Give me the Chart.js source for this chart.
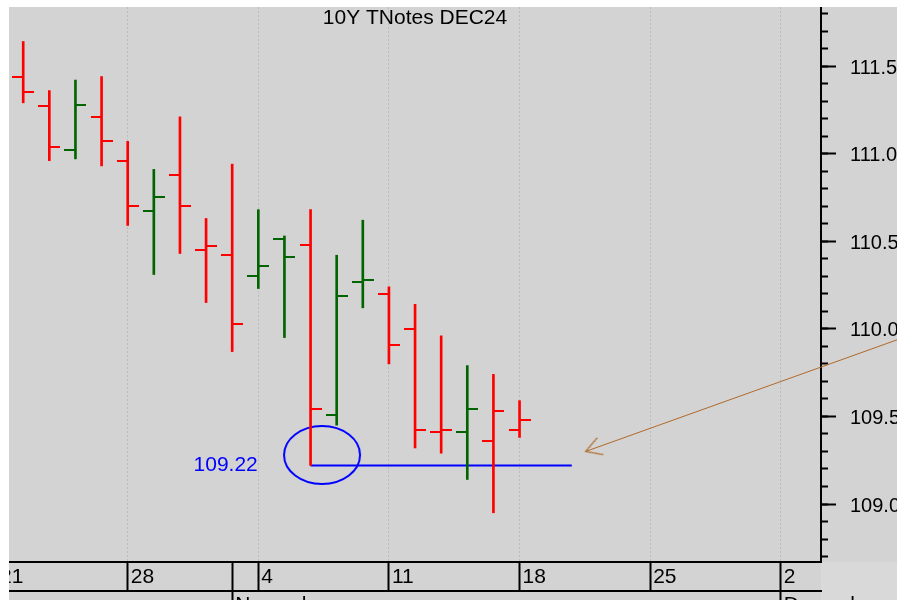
<!DOCTYPE html>
<html>
<head>
<meta charset="utf-8">
<title>10Y TNotes DEC24</title>
<script src="https://cdn.jsdelivr.net/npm/chart.js@4.4.1/dist/chart.umd.min.js"></script>
<style>
  html, body { margin: 0; padding: 0; background: #fff; overflow: hidden; }
  #wrap { position: absolute; left: 9px; top: 7px; width: 920px; height: 593px; background: #d3d3d3; }
</style>
</head>
<body>
<div id="wrap"><canvas id="chart"></canvas></div>
<script>
// trading day index: 0 = Oct 21, 5 = Oct 28, 9 = Nov 1, 10 = Nov 4 ...
const dayIdx = [1, 2, 3, 4, 5, 6, 7, 8, 9, 10, 11, 12, 13, 14, 15, 16, 17, 18, 19, 20];
const openP  = [111.44, 111.27, 111.02, 111.21, 110.96, 110.67, 110.88, 110.45, 110.42, 110.30,
                110.51, 110.48, 109.51, 110.27, 110.20, 110.00, 109.41, 109.41, 109.36, 109.42];
const highP  = [111.64, 111.36, 111.42, 111.44, 111.07, 110.91, 111.21, 110.63, 110.94, 110.68,
                110.53, 110.68, 110.42, 110.62, 110.24, 110.14, 109.96, 109.79, 109.74, 109.59];
const lowP   = [111.29, 110.96, 110.97, 110.93, 110.59, 110.31, 110.43, 110.15, 109.87, 110.23,
                109.95, 109.22, 109.45, 110.12, 109.80, 109.32, 109.29, 109.14, 108.95, 109.38];
const closeP = [111.35, 111.04, 111.28, 111.07, 110.70, 110.75, 110.70, 110.47, 110.03, 110.36,
                110.41, 109.54, 110.19, 110.28, 109.91, 109.42, 109.42, 109.54, 109.53, 109.48];

// axis ticks
const weekTicks = [0, 5, 9, 10, 15, 20, 25, 30];
const weekLabels = ['21', '28', '', '4', '11', '18', '25', '2'];
const monthTicks = [9, 30];
const monthLabels = ['November', 'December'];
const priceTicks = [109.0, 109.5, 110.0, 110.5, 111.0, 111.5];
const minorTicks = [108.7, 108.8, 108.9, 109.0, 109.1, 109.2, 109.3, 109.4, 109.5, 109.6, 109.7,
                    109.8, 109.9, 110.0, 110.1, 110.2, 110.3, 110.4, 110.5, 110.6, 110.7, 110.8,
                    110.9, 111.0, 111.1, 111.2, 111.3, 111.4, 111.5, 111.6, 111.7, 111.8];

// drawings on the chart
const supportX = [12, 22];
const supportY = [109.22, 109.22];
const circleX = [12.44];
const circleY = [109.28];
const arrowX = [36, 22.53];
const arrowY = [110.02, 109.30];
const levelLabelX = 9.98;

const RED = '#ff0000';
const GREEN = '#006400';
const FONT = '"Liberation Sans", Arial, sans-serif';

// up/down vs previous close
const barColors = closeP.map((c, i) => {
  const up = i === 0 ? c > openP[i] : c > closeP[i - 1];
  return up ? GREEN : RED;
});

// small canvases used as point styles
const tickImg = (color, left) => {
  const c = document.createElement('canvas');
  c.width = 22; c.height = 2;
  const g = c.getContext('2d');
  g.fillStyle = color;
  g.fillRect(left ? 0 : 11, 0, 11, 2);
  return c;
};
const openImg = { [RED]: tickImg(RED, true), [GREEN]: tickImg(GREEN, true) };
const closeImg = { [RED]: tickImg(RED, false), [GREEN]: tickImg(GREEN, false) };

const ellipseImg = (() => {
  const c = document.createElement('canvas');
  c.width = 80; c.height = 62;
  const g = c.getContext('2d');
  g.strokeStyle = '#0000ff';
  g.lineWidth = 2;
  g.beginPath();
  g.ellipse(40, 31, 38, 29, 0, 0, Math.PI * 2);
  g.stroke();
  return c;
})();

const arrowHeadImg = (() => {
  const c = document.createElement('canvas');
  c.width = 40; c.height = 40;
  const g = c.getContext('2d');
  g.strokeStyle = '#b0692a';
  g.lineWidth = 1.2;
  g.beginPath();
  g.moveTo(35.6, 11); g.lineTo(20, 20); g.lineTo(35.6, 29);
  g.stroke();
  return c;
})();

// text next to the support line + lighter corner
const extrasPlugin = {
  id: 'extras',
  beforeDraw(chart) {
    const { ctx, chartArea, width, height } = chart;
    ctx.save();
    ctx.fillStyle = '#d9d9d9';
    ctx.fillRect(chartArea.right, chartArea.bottom, width - chartArea.right, height - chartArea.bottom);
    ctx.restore();
  },
  afterDatasetsDraw(chart) {
    const { ctx, scales: { x, y } } = chart;
    ctx.save();
    ctx.fillStyle = '#0000ff';
    ctx.font = '21px ' + FONT;
    ctx.textAlign = 'right';
    ctx.textBaseline = 'middle';
    ctx.fillText(supportY[0].toFixed(2), x.getPixelForValue(levelLabelX), y.getPixelForValue(supportY[0]));
    ctx.restore();
  }
};

const noPad = (s) => { s.paddingTop = 0; s.paddingBottom = 0; s.paddingLeft = 0; s.paddingRight = 0; };

new Chart(document.getElementById('chart'), {
  type: 'line',
  data: {
    datasets: [
      {
        type: 'bar',
        data: dayIdx.map((d, i) => ({ x: d, y: [lowP[i], highP[i]] })),
        backgroundColor: barColors,
        borderWidth: 0,
        barThickness: 2,
      },
      {
        data: dayIdx.map((d, i) => ({ x: d, y: openP[i] })),
        showLine: false,
        pointRadius: 6,
        pointStyle: (c) => openImg[barColors[c.dataIndex]],
      },
      {
        data: dayIdx.map((d, i) => ({ x: d, y: closeP[i] })),
        showLine: false,
        pointRadius: 6,
        pointStyle: (c) => closeImg[barColors[c.dataIndex]],
      },
      {
        data: supportX.map((d, i) => ({ x: d, y: supportY[i] })),
        borderColor: '#0000ff',
        borderWidth: 2,
        pointRadius: 0,
      },
      {
        data: circleX.map((d, i) => ({ x: d, y: circleY[i] })),
        showLine: false,
        pointRadius: 30,
        pointStyle: ellipseImg,
      },
      {
        data: arrowX.map((d, i) => ({ x: d, y: arrowY[i] })),
        borderColor: '#b0692a',
        borderWidth: 1,
        clip: false,
        pointRadius: [0, 8],
        pointStyle: arrowHeadImg,
        pointRotation: (c) => {
          const { x, y } = c.chart.scales;
          const a = Math.atan2(y.getPixelForValue(arrowY[0]) - y.getPixelForValue(arrowY[1]),
                               x.getPixelForValue(arrowX[0]) - x.getPixelForValue(arrowX[1]));
          return a * 180 / Math.PI;
        },
      },
    ]
  },
  options: {
    responsive: true,
    maintainAspectRatio: false,
    animation: false,
    events: [],
    layout: { padding: 0, autoPadding: false },
    plugins: {
      legend: { display: false },
      tooltip: { enabled: false },
      title: {
        display: true,
        text: '10Y TNotes DEC24',
        fullSize: false,
        color: '#000',
        font: { family: FONT, size: 21, weight: 'normal' },
        padding: { top: -1, bottom: -24.2 },
      },
    },
    scales: {
      x: {
        type: 'linear',
        position: 'bottom',
        min: 0.456,
        max: 31.54,
        offset: false,
        weight: 0,
        afterBuildTicks: (s) => { s.ticks = weekTicks.map((v) => ({ value: v })); },
        afterFit: (s) => { s.height = 29; noPad(s); },
        grid: {
          offset: false,
          color: (c) => (c.tick && c.tick.value === 9 ? 'rgba(0,0,0,0)' : '#bcbcbc'),
          lineWidth: 1,
          tickColor: '#000',
          tickWidth: 2,
          tickLength: 29,
        },
        border: { color: '#000', width: 2, dash: [2, 2] },
        ticks: {
          autoSkip: false,
          maxRotation: 0,
          minRotation: 0,
          align: 'start',
          labelOffset: 3,
          padding: -26,
          color: '#000',
          font: { family: FONT, size: 21 },
          callback: (v) => weekLabels[weekTicks.indexOf(v)],
        },
      },
      x2: {
        type: 'linear',
        position: 'bottom',
        min: 0.456,
        max: 31.54,
        offset: false,
        weight: 1,
        afterBuildTicks: (s) => { s.ticks = monthTicks.map((v) => ({ value: v })); },
        afterFit: (s) => { s.height = 9; noPad(s); },
        grid: {
          drawOnChartArea: false,
          tickColor: '#000',
          tickWidth: 2,
          tickLength: 9,
        },
        border: { color: '#000', width: 2 },
        ticks: {
          autoSkip: false,
          maxRotation: 0,
          minRotation: 0,
          align: 'start',
          labelOffset: 3,
          padding: -7,
          color: '#000',
          font: { family: FONT, size: 21 },
          callback: (v) => monthLabels[monthTicks.indexOf(v)],
        },
      },
      y: {
        type: 'linear',
        position: 'right',
        min: 108.669,
        max: 111.837,
        weight: 1,
        afterBuildTicks: (s) => { s.ticks = priceTicks.map((v) => ({ value: v })); },
        afterFit: (s) => { s.width = 108; noPad(s); },
        grid: {
          drawOnChartArea: false,
          tickColor: '#000',
          tickWidth: 2,
          tickLength: 15,
        },
        border: { color: '#000', width: 2 },
        ticks: {
          padding: 14,
          labelOffset: 2,
          color: '#000',
          font: { family: FONT, size: 20 },
          callback: (v) => v.toFixed(1),
        },
      },
      y2: {
        type: 'linear',
        position: 'right',
        min: 108.669,
        max: 111.837,
        weight: 0,
        afterBuildTicks: (s) => { s.ticks = minorTicks.map((v) => ({ value: v })); },
        afterFit: (s) => { s.width = 0; noPad(s); },
        grid: {
          drawOnChartArea: false,
          tickColor: '#000',
          tickWidth: 2,
          tickLength: 7,
        },
        border: { display: false },
        ticks: { display: false },
      },
    },
  },
  plugins: [extrasPlugin],
});
</script>
</body>
</html>
